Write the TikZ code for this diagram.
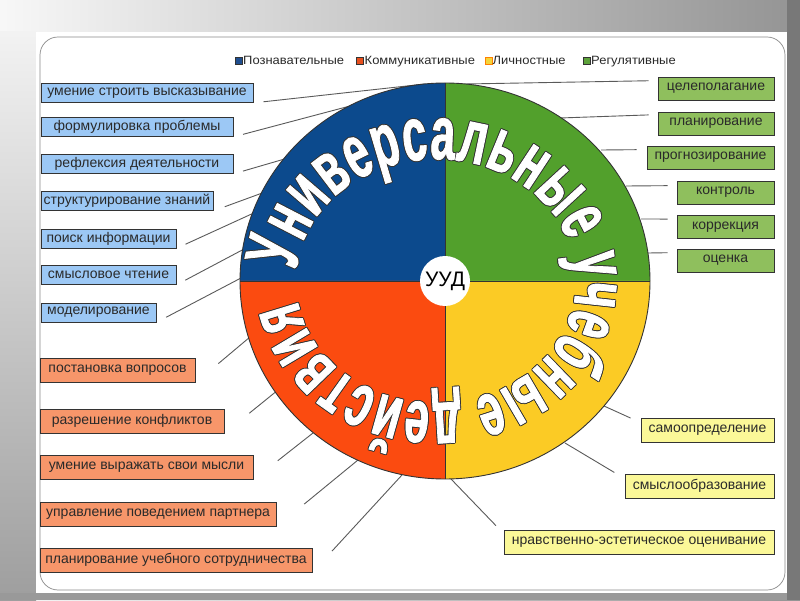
\documentclass[tikz,border=0pt]{standalone}
\usepackage{fontspec}
\setmainfont{Liberation Sans}
\newfontfamily\arcfont{Liberation Sans}[FakeStretch=0.58,FakeBold=1]
\newfontfamily\legfont{Liberation Sans}[FakeStretch=1.08]
\usetikzlibrary{decorations.text}
\definecolor{cblue}{HTML}{0C4A8D}
\definecolor{cgreen}{HTML}{52A02C}
\definecolor{cred}{HTML}{FB4B10}
\definecolor{cyellow}{HTML}{FBCB25}
\definecolor{lblue}{HTML}{9CC8F5}
\definecolor{lorange}{HTML}{F7966A}
\definecolor{lgreen}{HTML}{8FBF5D}
\definecolor{lyellow}{HTML}{FBF898}
\definecolor{boxline}{HTML}{333333}
\definecolor{boxtext}{HTML}{2A2A2A}
\definecolor{connc}{HTML}{5A5A5A}
\definecolor{framec}{HTML}{8A8A8A}
\definecolor{lgblue}{HTML}{1F4E8F}
\definecolor{lgred}{HTML}{E8501E}
\definecolor{lgyellow}{HTML}{F3D43A}
\definecolor{lggreen}{HTML}{5DA23A}
\newcommand\uudarc[3]{%
  \path[decorate, decoration={text along path, text color=#1, text align=fit to path,
    text={|\arcfont\bfseries\fontsize{76}{76}\selectfont|Универсальные учебные действия}}]
    ([shift={(#2,#3)}]436,319) ++(175:140pt and 122pt)
    arc[start angle=175, end angle=-171, x radius=140pt, y radius=122pt];}
\begin{document}
\begin{tikzpicture}[x=1pt,y=1pt,
  box/.style={draw=boxline, line width=0.8pt, inner sep=0pt, text=boxtext, font=\fontsize{14}{16}\selectfont},
  bbox/.style={box, fill=lblue, minimum height=19pt},
  obox/.style={box, fill=lorange, minimum height=24pt},
  gbox/.style={box, fill=lgreen, minimum height=23pt},
  ybox/.style={box, fill=lyellow, minimum height=24pt},
  conn/.style={draw=connc, line width=0.9pt},
  legsq/.style={draw=boxline, line width=0.5pt, minimum size=7pt, inner sep=0pt},
  legtxt/.style={anchor=base west, inner sep=0pt, text=boxtext, font=\legfont\fontsize{12}{14}\selectfont}]
\useasboundingbox (0,0) rectangle (800,600);
% background
\shade[left color=white!97!black, right color=black!42] (0,0) rectangle (800,600);
\shade[top color=white!95!black, bottom color=black!38] (0,0) rectangle (36,568);
\fill[black!40] (0,0) rectangle (800,7);
\fill[black!53] (787,0) rectangle (800,600);
\fill[white] (36,7) rectangle (787,568);
\draw[framec, line width=0.7pt, rounded corners=18pt] (40,10) rectangle (785,563);
% legend
\node[legsq, fill=lgblue] (lq1) at (238.5,539.5) {};
\node[legtxt] (lt1) at (243,535.5) {Познавательные};
\node[legsq, fill=lgred] (lq2) at (360,539.5) {};
\node[legtxt] (lt2) at (364.5,535.5) {Коммуникативные};
\node[legsq, fill=lgyellow, draw=orange] (lq3) at (488.3,539.5) {};
\node[legtxt] (lt3) at (492.5,535.5) {Личностные};
\node[legsq, fill=lggreen] (lq4) at (586.7,539.5) {};
\node[legtxt] (lt4) at (591,535.5) {Регулятивные};
% boxes
\node[bbox, minimum width=212pt] (b1) at (147,507) {умение строить высказывание};
\node[bbox, minimum width=192pt] (b2) at (137,473) {формулировка проблемы};
\node[bbox, minimum width=192pt] (b3) at (137,436) {рефлексия деятельности};
\node[bbox, minimum width=172pt] (b4) at (127,399) {структурирование знаний};
\node[bbox, minimum width=135pt] (b5) at (108.5,361.5) {поиск информации};
\node[bbox, minimum width=135pt] (b6) at (108.5,325) {смысловое чтение};
\node[bbox, minimum width=115pt] (b7) at (98.5,287.5) {моделирование};
\node[obox, minimum width=155pt] (o8) at (117.5,229.5) {постановка вопросов};
\node[obox, minimum width=184pt] (o9) at (132,179) {разрешение конфликтов};
\node[obox, minimum width=213pt] (o10) at (146.5,132.5) {умение выражать свои мысли};
\node[obox, minimum width=236pt] (o11) at (158,85.5) {управление поведением партнера};
\node[obox, minimum width=272pt] (o12) at (176,40) {планирование учебного сотрудничества};
\node[gbox, minimum width=116pt] (g13) at (716,511.5) {целеполагание};
\node[gbox, minimum width=116pt] (g14) at (716,476.5) {планирование};
\node[gbox, minimum width=127pt] (g15) at (710.5,442.5) {прогнозирование};
\node[gbox, minimum width=97pt] (g16) at (725.5,407.5) {контроль};
\node[gbox, minimum width=97pt] (g17) at (725.5,373) {коррекция};
\node[gbox, minimum width=97pt] (g18) at (725.5,339.5) {оценка};
\node[ybox, minimum width=133pt] (y19) at (707.5,170) {самоопределение};
\node[ybox, minimum width=149pt] (y20) at (699.5,114) {смыслообразование};
\node[ybox, minimum width=270pt] (y21) at (639,58) {нравственно-эстетическое оценивание};
% connector ends on the wheel
\coordinate (c) at (445,319);
\coordinate (e1) at (425,516);  \coordinate (e2) at (350,494);
\coordinate (e3) at (288,442);  \coordinate (e4) at (265,408);
\coordinate (e5) at (256,388);  \coordinate (e6) at (246,352);
\coordinate (e7) at (241,322);  \coordinate (e8) at (250,263);
\coordinate (e9) at (278,210);  \coordinate (e10) at (313,167);
\coordinate (e11) at (358,140); \coordinate (e12) at (402,125);
\coordinate (e13) at (465,516); \coordinate (e14) at (560,482);
\coordinate (e15) at (601,450); \coordinate (e16) at (626,414);
\coordinate (e17) at (641,381); \coordinate (e18) at (648,347);
\coordinate (e19) at (604,194); \coordinate (e20) at (565,157);
\coordinate (e21) at (451,121);
% connectors
\draw[conn, shorten <=10pt] (b1.south east) -- (e1);
\draw[conn, shorten <=10pt] (b2.south east) -- (e2);
\draw[conn, shorten <=10pt] (b3.south east) -- (e3);
\draw[conn, shorten <=12pt] (b4.south east) -- (e4);
\draw[conn, shorten <=10pt] (b5.south east) -- (e5);
\draw[conn, shorten <=10pt] (b6.south east) -- (e6);
\draw[conn, shorten <=11pt] (b7.south east) -- (e7);
\draw[conn, shorten <=30pt] (o8.south east) -- (e8);
\draw[conn, shorten <=32pt] (o9.south east) -- (e9);
\draw[conn, shorten <=31pt] (o10.south east) -- (e10);
\draw[conn, shorten <=36pt] (o11.south east) -- (e11);
\draw[conn, shorten <=29pt] (o12.south east) -- (e12);
\draw[conn, shorten <=9pt] ([yshift=-4pt]g13.north west) -- (e13);
\draw[conn, shorten <=9pt] ([yshift=-3pt]g14.north west) -- (e14);
\draw[conn, shorten <=10pt] ([yshift=-4pt]g15.north west) -- (e15);
\draw[conn, shorten <=9pt] ([yshift=-5pt]g16.north west) -- (e16);
\draw[conn, shorten <=9pt] ([yshift=-4pt]g17.north west) -- (e17);
\draw[conn, shorten <=9pt] ([yshift=-4pt]g18.north west) -- (e18);
\draw[conn, shorten <=11pt] ([yshift=-5pt]y19.north west) -- (e19);
\draw[conn, shorten <=12pt] ([yshift=-5pt]y20.north west) -- (e20);
\draw[conn, shorten <=11pt] ([yshift=-4pt]y21.north west) -- (e21);
% wheel
\fill[cblue] (c) -- (240,319) arc[start angle=180, end angle=90, x radius=205pt, y radius=198pt] -- cycle;
\fill[cgreen] (c) -- (445,517) arc[start angle=90, end angle=0, x radius=205pt, y radius=198pt] -- cycle;
\fill[cyellow] (c) -- (650,319) arc[start angle=0, end angle=-90, x radius=205pt, y radius=198pt] -- cycle;
\fill[cred] (c) -- (445,121) arc[start angle=270, end angle=180, x radius=205pt, y radius=198pt] -- cycle;
\draw[boxline, line width=0.9pt] (c) ellipse[x radius=205pt, y radius=198pt];
\draw[boxline, line width=0.9pt] (240,319) -- (650,319) (445,121) -- (445,517);
% arched title with thin dark outline
\uudarc{black!80}{0.9}{0}
\uudarc{black!80}{-0.9}{0}
\uudarc{black!80}{0}{0.9}
\uudarc{black!80}{0}{-0.9}
\uudarc{black!80}{0.64}{0.64}
\uudarc{black!80}{-0.64}{0.64}
\uudarc{black!80}{0.64}{-0.64}
\uudarc{black!80}{-0.64}{-0.64}
\uudarc{white}{0}{0}
% centre
\node[circle, fill=white, minimum size=50pt, inner sep=0pt, font=\fontsize{21}{21}\selectfont] (uud) at (c) {УУД};
\end{tikzpicture}
\end{document}
